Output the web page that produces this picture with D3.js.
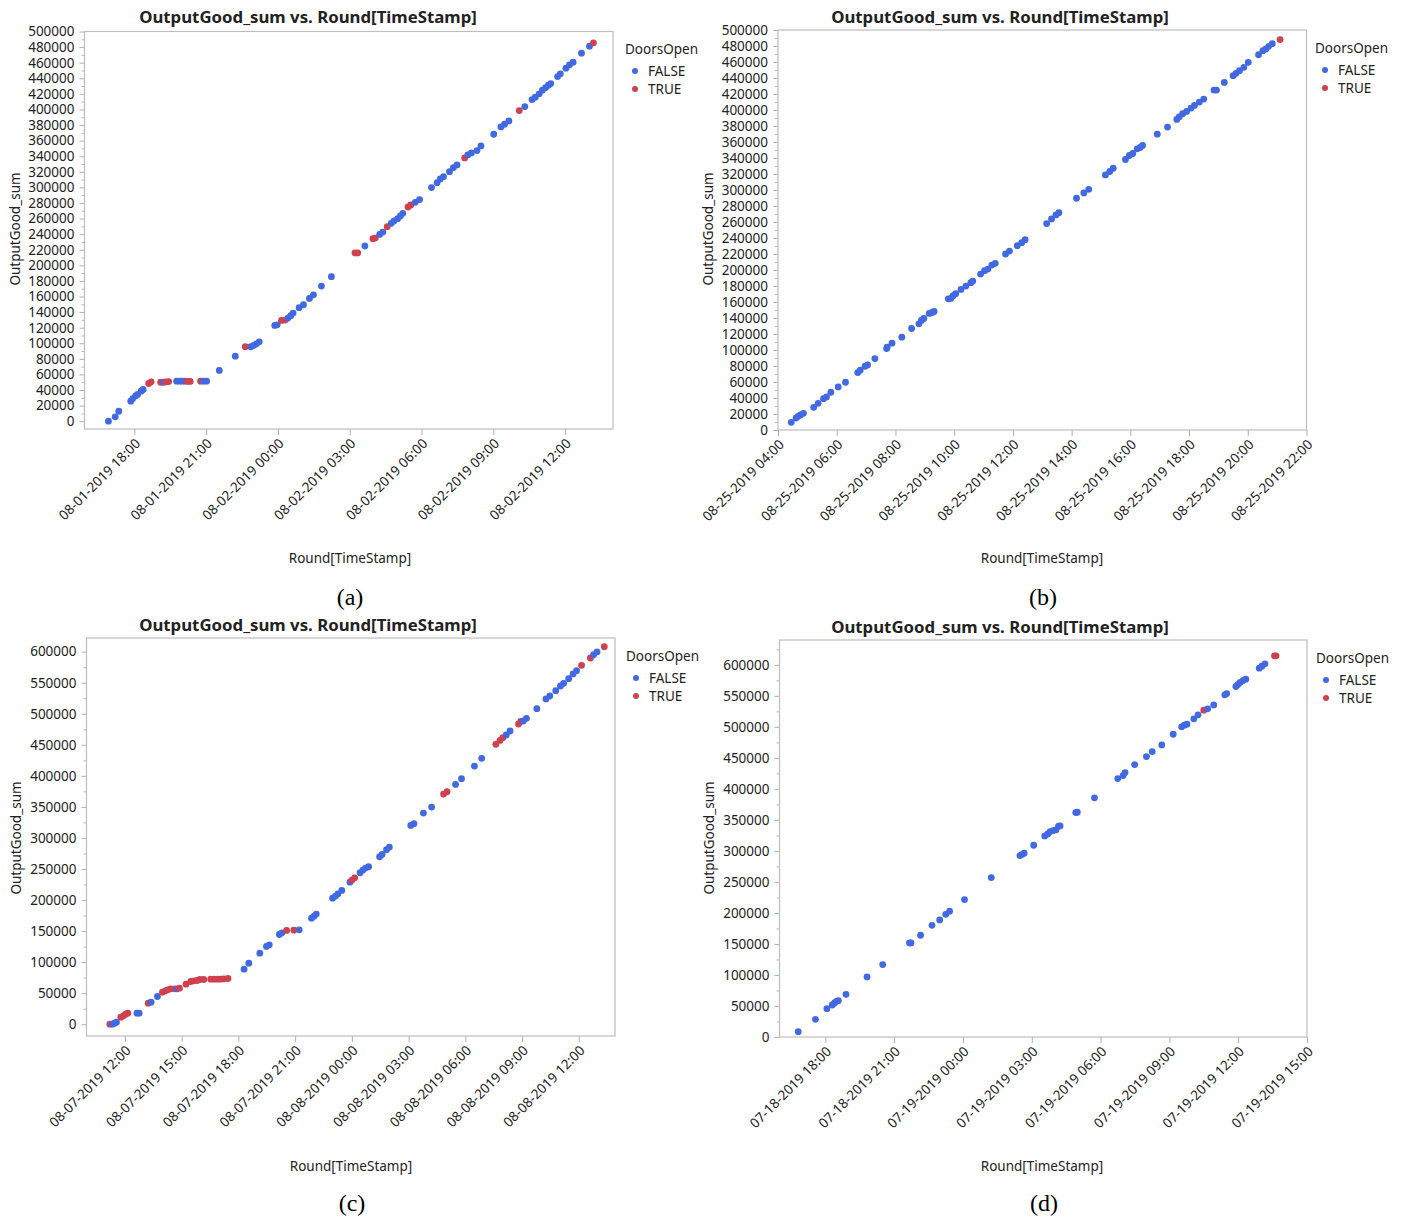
<!DOCTYPE html>
<html>
<head>
<meta charset="utf-8">
<script src="https://cdn.jsdelivr.net/npm/d3@7"></script>
<style>
  body { margin: 0; background: #fff; }
  text { font-family: "Noto Sans", sans-serif; fill: #222; }
</style>
</head>
<body>
<script>
  // [Round[TimeStamp], OutputGood_sum, DoorsOpen]
  const pointsA = [
    ['2019-08-01 16:55', 0, false], ['2019-08-01 17:12', 5600, false], ['2019-08-01 17:21', 12800, false],
    ['2019-08-01 17:51', 25700, false], ['2019-08-01 17:56', 29100, false], ['2019-08-01 18:03', 32500, false],
    ['2019-08-01 18:08', 34300, false], ['2019-08-01 18:17', 38500, false], ['2019-08-01 18:22', 40700, false],
    ['2019-08-01 18:36', 48400, true], ['2019-08-01 18:42', 50500, true], ['2019-08-01 19:06', 50000, true],
    ['2019-08-01 19:13', 50000, false], ['2019-08-01 19:19', 50400, true], ['2019-08-01 19:26', 50900, true],
    ['2019-08-01 19:46', 51400, false], ['2019-08-01 19:53', 51400, false], ['2019-08-01 19:59', 51400, false],
    ['2019-08-01 20:06', 51400, false], ['2019-08-01 20:13', 51000, true], ['2019-08-01 20:20', 51000, true],
    ['2019-08-01 20:46', 51400, true], ['2019-08-01 20:53', 51400, false], ['2019-08-01 21:01', 51400, false],
    ['2019-08-01 21:33', 65100, false], ['2019-08-01 22:13', 83500, false], ['2019-08-01 22:38', 95500, true],
    ['2019-08-01 22:52', 95500, false], ['2019-08-01 22:59', 97200, false], ['2019-08-01 23:06', 99300, false],
    ['2019-08-01 23:13', 101900, false], ['2019-08-01 23:52', 122900, false], ['2019-08-01 23:58', 123700, false],
    ['2019-08-02 00:09', 129300, true], ['2019-08-02 00:18', 129700, true], ['2019-08-02 00:25', 132300, false],
    ['2019-08-02 00:32', 135300, false], ['2019-08-02 00:38', 138700, false], ['2019-08-02 00:53', 145600, false],
    ['2019-08-02 01:04', 149400, false], ['2019-08-02 01:19', 157500, false], ['2019-08-02 01:29', 162200, false],
    ['2019-08-02 01:49', 173400, false], ['2019-08-02 02:14', 185400, false], ['2019-08-02 03:13', 215800, true],
    ['2019-08-02 03:20', 215800, true], ['2019-08-02 03:38', 224800, false], ['2019-08-02 03:58', 234200, true],
    ['2019-08-02 04:04', 235000, true], ['2019-08-02 04:15', 239700, false], ['2019-08-02 04:23', 242700, false],
    ['2019-08-02 04:34', 249600, true], ['2019-08-02 04:44', 253900, false], ['2019-08-02 04:51', 256900, false],
    ['2019-08-02 05:00', 259900, false], ['2019-08-02 05:07', 263300, false], ['2019-08-02 05:13', 266700, false],
    ['2019-08-02 05:26', 274800, true], ['2019-08-02 05:33', 277400, true], ['2019-08-02 05:44', 280800, false],
    ['2019-08-02 05:55', 284300, false], ['2019-08-02 06:25', 299700, false], ['2019-08-02 06:39', 306100, false],
    ['2019-08-02 06:47', 310800, false], ['2019-08-02 06:55', 313800, false], ['2019-08-02 07:10', 320200, false],
    ['2019-08-02 07:20', 325400, false], ['2019-08-02 07:29', 328800, false], ['2019-08-02 07:48', 337800, true],
    ['2019-08-02 07:56', 341600, false], ['2019-08-02 08:05', 344200, false], ['2019-08-02 08:19', 347200, false],
    ['2019-08-02 08:29', 353200, false], ['2019-08-02 09:01', 368200, false], ['2019-08-02 09:19', 377600, false],
    ['2019-08-02 09:28', 381000, false], ['2019-08-02 09:39', 385300, false], ['2019-08-02 10:05', 398600, true],
    ['2019-08-02 10:19', 403700, false], ['2019-08-02 10:37', 412700, false], ['2019-08-02 10:45', 415700, false],
    ['2019-08-02 10:55', 420000, false], ['2019-08-02 11:03', 424700, false], ['2019-08-02 11:11', 428100, false],
    ['2019-08-02 11:18', 431100, false], ['2019-08-02 11:24', 433200, false], ['2019-08-02 11:41', 442200, false],
    ['2019-08-02 11:48', 445700, false], ['2019-08-02 12:02', 452900, false], ['2019-08-02 12:11', 457200, false],
    ['2019-08-02 12:20', 460600, false], ['2019-08-02 12:41', 472200, false], ['2019-08-02 13:01', 481200, false],
    ['2019-08-02 13:11', 485500, true]
  ];

  const pointsB = [
    ['2019-08-25 04:27', 9600, false], ['2019-08-25 04:37', 15000, false], ['2019-08-25 04:41', 17100, false],
    ['2019-08-25 04:46', 18800, false], ['2019-08-25 04:52', 20900, false], ['2019-08-25 05:13', 28400, false],
    ['2019-08-25 05:22', 33400, false], ['2019-08-25 05:33', 39200, false], ['2019-08-25 05:39', 41300, false],
    ['2019-08-25 05:48', 47200, false], ['2019-08-25 06:03', 53800, false], ['2019-08-25 06:18', 59700, false],
    ['2019-08-25 06:43', 71800, false], ['2019-08-25 06:48', 74700, false], ['2019-08-25 06:58', 79700, false],
    ['2019-08-25 07:03', 81400, false], ['2019-08-25 07:18', 89300, false], ['2019-08-25 07:42', 101800, false],
    ['2019-08-25 07:43', 103500, false], ['2019-08-25 07:53', 108500, false], ['2019-08-25 08:13', 116000, false],
    ['2019-08-25 08:33', 126900, false], ['2019-08-25 08:48', 132700, false], ['2019-08-25 08:53', 136900, false],
    ['2019-08-25 08:58', 139400, false], ['2019-08-25 09:09', 145700, false], ['2019-08-25 09:15', 146900, false],
    ['2019-08-25 09:19', 148200, false], ['2019-08-25 09:48', 164000, false], ['2019-08-25 09:53', 164500, false],
    ['2019-08-25 09:58', 167800, false], ['2019-08-25 10:03', 170300, false], ['2019-08-25 10:14', 175700, false],
    ['2019-08-25 10:24', 179900, false], ['2019-08-25 10:34', 184100, false], ['2019-08-25 10:38', 186200, false],
    ['2019-08-25 10:54', 194900, false], ['2019-08-25 11:02', 199100, false], ['2019-08-25 11:09', 201200, false],
    ['2019-08-25 11:17', 206200, false], ['2019-08-25 11:24', 208300, false], ['2019-08-25 11:45', 220000, false],
    ['2019-08-25 11:53', 223700, false], ['2019-08-25 12:09', 230400, false], ['2019-08-25 12:18', 234200, false],
    ['2019-08-25 12:25', 237900, false], ['2019-08-25 13:09', 258000, false], ['2019-08-25 13:19', 263800, false],
    ['2019-08-25 13:28', 268800, false], ['2019-08-25 13:34', 271700, false], ['2019-08-25 14:10', 289700, false],
    ['2019-08-25 14:25', 296400, false], ['2019-08-25 14:35', 300900, false], ['2019-08-25 15:09', 318900, false],
    ['2019-08-25 15:18', 323100, false], ['2019-08-25 15:25', 327200, false], ['2019-08-25 15:50', 338100, false],
    ['2019-08-25 15:58', 343100, false], ['2019-08-25 16:05', 345600, false], ['2019-08-25 16:14', 351500, false],
    ['2019-08-25 16:20', 353100, false], ['2019-08-25 16:25', 355600, false], ['2019-08-25 16:55', 369800, false],
    ['2019-08-25 17:16', 378600, false], ['2019-08-25 17:35', 388200, false], ['2019-08-25 17:40', 391500, false],
    ['2019-08-25 17:47', 395300, false], ['2019-08-25 17:55', 398200, false], ['2019-08-25 18:04', 402400, false],
    ['2019-08-25 18:11', 405700, false], ['2019-08-25 18:21', 409900, false], ['2019-08-25 18:30', 413600, false],
    ['2019-08-25 18:51', 424900, false], ['2019-08-25 18:56', 424900, false], ['2019-08-25 19:12', 434500, false],
    ['2019-08-25 19:30', 442900, false], ['2019-08-25 19:36', 445800, false], ['2019-08-25 19:43', 449100, false],
    ['2019-08-25 19:52', 453300, false], ['2019-08-25 20:01', 459600, false], ['2019-08-25 20:22', 469200, false],
    ['2019-08-25 20:31', 474200, false], ['2019-08-25 20:37', 476300, false], ['2019-08-25 20:43', 479600, false],
    ['2019-08-25 20:50', 482900, false], ['2019-08-25 21:06', 488000, true]
  ];

  const pointsC = [
    ['2019-08-07 11:12', 0, true], ['2019-08-07 11:20', 0, false], ['2019-08-07 11:27', 1600, false],
    ['2019-08-07 11:33', 3200, false], ['2019-08-07 11:47', 11300, true], ['2019-08-07 11:55', 13400, true],
    ['2019-08-07 12:02', 16100, true], ['2019-08-07 12:09', 17700, true], ['2019-08-07 12:38', 17700, false],
    ['2019-08-07 12:45', 17700, false], ['2019-08-07 13:14', 33800, true], ['2019-08-07 13:23', 35500, false],
    ['2019-08-07 13:43', 44600, false], ['2019-08-07 13:59', 51600, true], ['2019-08-07 14:08', 53700, true],
    ['2019-08-07 14:16', 55300, true], ['2019-08-07 14:25', 56900, true], ['2019-08-07 14:36', 56900, true],
    ['2019-08-07 14:45', 56900, false], ['2019-08-07 14:53', 58000, true], ['2019-08-07 15:14', 64500, true],
    ['2019-08-07 15:29', 68800, true], ['2019-08-07 15:39', 69800, true], ['2019-08-07 15:49', 70400, true],
    ['2019-08-07 15:58', 72000, true], ['2019-08-07 16:10', 72000, true], ['2019-08-07 16:32', 72500, true],
    ['2019-08-07 16:42', 72500, true], ['2019-08-07 16:53', 72500, true], ['2019-08-07 17:04', 72500, true],
    ['2019-08-07 17:14', 73100, true], ['2019-08-07 17:27', 73600, true], ['2019-08-07 18:18', 88600, false],
    ['2019-08-07 18:33', 98300, false], ['2019-08-07 19:08', 114400, false], ['2019-08-07 19:29', 125200, false],
    ['2019-08-07 19:38', 127900, false], ['2019-08-07 20:10', 144500, false], ['2019-08-07 20:18', 147200, false],
    ['2019-08-07 20:33', 151000, true], ['2019-08-07 20:56', 151500, true], ['2019-08-07 21:13', 152000, false],
    ['2019-08-07 21:52', 170800, false], ['2019-08-07 22:00', 174000, false], ['2019-08-07 22:07', 177300, false],
    ['2019-08-07 22:59', 203000, false], ['2019-08-07 23:08', 206300, false], ['2019-08-07 23:16', 210000, false],
    ['2019-08-07 23:28', 215400, false], ['2019-08-07 23:54', 228800, false], ['2019-08-08 00:00', 232100, true],
    ['2019-08-08 00:09', 235800, true], ['2019-08-08 00:26', 243900, false], ['2019-08-08 00:35', 248200, false],
    ['2019-08-08 00:43', 251400, false], ['2019-08-08 00:53', 253600, false], ['2019-08-08 01:28', 269700, false],
    ['2019-08-08 01:36', 273400, false], ['2019-08-08 01:50', 281000, false], ['2019-08-08 01:59', 285300, false],
    ['2019-08-08 03:07', 320200, false], ['2019-08-08 03:17', 322900, false], ['2019-08-08 03:47', 340000, false],
    ['2019-08-08 04:13', 349700, false], ['2019-08-08 04:51', 370700, true], ['2019-08-08 05:02', 374400, true],
    ['2019-08-08 05:29', 386200, false], ['2019-08-08 05:48', 395400, false], ['2019-08-08 06:29', 415800, false],
    ['2019-08-08 06:52', 428200, false], ['2019-08-08 07:37', 450700, true], ['2019-08-08 07:50', 457100, true],
    ['2019-08-08 07:59', 461400, true], ['2019-08-08 08:10', 465800, false], ['2019-08-08 08:22', 472200, false],
    ['2019-08-08 08:49', 483500, true], ['2019-08-08 08:56', 487800, true], ['2019-08-08 09:04', 488300, false],
    ['2019-08-08 09:14', 492600, false], ['2019-08-08 09:47', 508200, false], ['2019-08-08 10:16', 523800, false],
    ['2019-08-08 10:28', 528600, false], ['2019-08-08 10:47', 537200, false], ['2019-08-08 11:02', 544700, false],
    ['2019-08-08 11:12', 549000, false], ['2019-08-08 11:28', 556500, false], ['2019-08-08 11:42', 564100, false],
    ['2019-08-08 11:53', 569400, false], ['2019-08-08 12:09', 578000, true], ['2019-08-08 12:37', 589800, true],
    ['2019-08-08 12:47', 595200, false], ['2019-08-08 12:58', 599500, false], ['2019-08-08 13:21', 608100, true]
  ];

  const pointsD = [
    ['2019-07-18 16:49', 8600, false], ['2019-07-18 17:34', 28500, false], ['2019-07-18 18:04', 45700, false],
    ['2019-07-18 18:18', 51600, false], ['2019-07-18 18:24', 54800, false], ['2019-07-18 18:29', 57500, false],
    ['2019-07-18 18:34', 58600, false], ['2019-07-18 18:54', 68800, false], ['2019-07-18 19:49', 96800, false],
    ['2019-07-18 20:30', 116700, false], ['2019-07-18 21:40', 151600, false], ['2019-07-18 21:44', 151600, false],
    ['2019-07-18 22:09', 164000, false], ['2019-07-18 22:39', 180100, false], ['2019-07-18 22:59', 188700, false],
    ['2019-07-18 23:15', 197800, false], ['2019-07-18 23:25', 202700, false], ['2019-07-19 00:04', 221500, false],
    ['2019-07-19 01:14', 257000, false], ['2019-07-19 02:29', 292500, false], ['2019-07-19 02:34', 294100, false],
    ['2019-07-19 02:40', 296200, false], ['2019-07-19 03:05', 309100, false], ['2019-07-19 03:34', 324200, false],
    ['2019-07-19 03:42', 327400, false], ['2019-07-19 03:48', 331200, false], ['2019-07-19 03:56', 332800, false],
    ['2019-07-19 04:03', 333800, false], ['2019-07-19 04:10', 339800, false], ['2019-07-19 04:14', 340300, false],
    ['2019-07-19 04:55', 361800, false], ['2019-07-19 04:59', 362300, false], ['2019-07-19 05:44', 385500, false],
    ['2019-07-19 06:45', 416600, false], ['2019-07-19 06:59', 421500, false], ['2019-07-19 07:04', 426300, false],
    ['2019-07-19 07:29', 439200, false], ['2019-07-19 08:00', 452100, false], ['2019-07-19 08:15', 460200, false],
    ['2019-07-19 08:40', 470900, false], ['2019-07-19 09:10', 488100, false], ['2019-07-19 09:32', 500000, false],
    ['2019-07-19 09:39', 502700, false], ['2019-07-19 09:46', 504300, false], ['2019-07-19 10:04', 512900, false],
    ['2019-07-19 10:15', 519300, false], ['2019-07-19 10:30', 526800, true], ['2019-07-19 10:40', 529000, false],
    ['2019-07-19 10:56', 535400, false], ['2019-07-19 11:25', 551600, false], ['2019-07-19 11:30', 553700, false],
    ['2019-07-19 11:54', 565000, false], ['2019-07-19 11:59', 568200, false], ['2019-07-19 12:05', 571500, false],
    ['2019-07-19 12:13', 574700, false], ['2019-07-19 12:20', 576800, false], ['2019-07-19 12:55', 594600, false],
    ['2019-07-19 13:02', 597800, false], ['2019-07-19 13:10', 601600, false], ['2019-07-19 13:35', 614500, true],
    ['2019-07-19 13:39', 614500, true]
  ];

  const legendLevels = ['FALSE', 'TRUE'];
  const legendColors = ['#4169e1', '#d0414e'];
  const chartTitle = 'OutputGood_sum vs. Round[TimeStamp]';
  const xTitle = 'Round[TimeStamp]';
  const yTitle = 'OutputGood_sum';
  const legendTitle = 'DoorsOpen';

  const parseTime = d3.timeParse('%Y-%m-%d %H:%M');
  const formatTime = d3.timeFormat('%m-%d-%Y %H:%M');

  const width = 1403;
  const height = 1220;

  const svg = d3.select('body')
          .append('svg')
          .attr('width', width)
          .attr('height', height);

  // 패널마다 프레임 위치, 축 범위, 눈금 간격만 다르고 나머지는 같다
  const panels = [
    { points: pointsA, caption: '(a)', left: 84.5, right: 613, top: 31.5, bottom: 429,
      xDomain: ['2019-08-01 15:55', '2019-08-02 14:00'], hours: 3,
      yDomain: [-10000, 500000], major: 20000, minor: 10000,
      titleX: 308, titleY: 23, yTitleX: 20, yTitleY: 229, xTitleX: 350, xTitleY: 563,
      legendX: 625, legendY: 54, captionX: 350, captionY: 605 },
    { points: pointsB, caption: '(b)', left: 778, right: 1306.5, top: 30, bottom: 430,
      xDomain: ['2019-08-25 04:00', '2019-08-25 22:00'], hours: 2,
      yDomain: [0, 500000], major: 20000, minor: 10000,
      titleX: 1000, titleY: 23, yTitleX: 713, yTitleY: 229, xTitleX: 1042, xTitleY: 563,
      legendX: 1315, legendY: 53, captionX: 1043, captionY: 605 },
    { points: pointsC, caption: '(c)', left: 86.5, right: 615, top: 638, bottom: 1036,
      xDomain: ['2019-08-07 09:58', '2019-08-08 13:55'], hours: 3,
      yDomain: [-19000, 622000], major: 50000, minor: 25000,
      titleX: 308, titleY: 631, yTitleX: 21, yTitleY: 838, xTitleX: 351, xTitleY: 1171,
      legendX: 626, legendY: 661, captionX: 352, captionY: 1211 },
    { points: pointsD, caption: '(d)', left: 779.5, right: 1307, top: 640, bottom: 1037,
      xDomain: ['2019-07-18 16:00', '2019-07-19 15:00'], hours: 3,
      yDomain: [0, 640000], major: 50000, minor: 25000,
      titleX: 1000, titleY: 633, yTitleX: 714, yTitleY: 838, xTitleX: 1042, xTitleY: 1171,
      legendX: 1316, legendY: 663, captionX: 1044, captionY: 1211 }
  ];

  const color = d3.scaleOrdinal().domain(legendLevels).range(legendColors);

  panels.forEach(p => {
    const g = svg.append('g');

    const x = d3.scaleTime()
            .domain(p.xDomain.map(parseTime))
            .range([p.left, p.right]);

    const y = d3.scaleLinear()
            .domain(p.yDomain)
            .range([p.bottom, p.top]);

    // 작은 눈금
    const minorTicks = d3.range(0, p.yDomain[1] + 1, p.minor).filter(v => v % p.major !== 0);
    g.append('g')
            .attr('transform', `translate(${p.left},0)`)
            .call(d3.axisLeft(y).tickValues(minorTicks).tickFormat('').tickSize(3))
            .call(a => a.select('.domain').remove())
            .call(a => a.selectAll('line').attr('stroke', '#b8b8b8'));

    // y축
    const majorTicks = d3.range(0, p.yDomain[1] + 1, p.major);
    g.append('g')
            .attr('transform', `translate(${p.left},0)`)
            .call(d3.axisLeft(y).tickValues(majorTicks).tickFormat(d3.format('d')).tickSize(5).tickPadding(5))
            .call(a => a.select('.domain').remove())
            .call(a => a.selectAll('line').attr('stroke', '#b0b0b0'))
            .call(a => a.selectAll('text')
                    .style('font-family', '"Noto Sans", sans-serif')
                    .style('font-size', '13.5px')
                    .attr('fill', '#222'));

    // x축
    g.append('g')
            .attr('transform', `translate(0,${p.bottom})`)
            .call(d3.axisBottom(x).ticks(d3.timeHour.every(p.hours)).tickFormat(formatTime).tickSize(6))
            .call(a => a.select('.domain').remove())
            .call(a => a.selectAll('line').attr('stroke', '#b0b0b0'))
            .call(a => a.selectAll('text')
                    .style('font-family', '"Noto Sans", sans-serif')
                    .style('font-size', '13.5px')
                    .attr('fill', '#222')
                    .attr('x', 0)
                    .attr('y', 0)
                    .attr('dy', '0.35em')
                    .attr('text-anchor', 'end')
                    .attr('transform', 'translate(3,12) rotate(-45)'));

    // 프레임
    g.append('rect')
            .attr('x', p.left)
            .attr('y', p.top)
            .attr('width', p.right - p.left)
            .attr('height', p.bottom - p.top)
            .attr('fill', 'none')
            .attr('stroke', '#bdbdbd')
            .attr('stroke-width', 1.2);

    // 점
    g.append('g')
            .selectAll('circle')
            .data(p.points)
            .enter()
            .append('circle')
            .attr('cx', d => x(parseTime(d[0])))
            .attr('cy', d => y(d[1]))
            .attr('r', 3.4)
            .attr('fill', d => color(d[2] ? 'TRUE' : 'FALSE'));

    g.append('text')
            .attr('x', p.titleX)
            .attr('y', p.titleY)
            .attr('text-anchor', 'middle')
            .style('font-size', '16.8px')
            .style('font-weight', 'bold')
            .text(chartTitle);

    g.append('text')
            .attr('transform', `translate(${p.yTitleX},${p.yTitleY}) rotate(-90)`)
            .attr('text-anchor', 'middle')
            .style('font-size', '13.5px')
            .text(yTitle);

    g.append('text')
            .attr('x', p.xTitleX)
            .attr('y', p.xTitleY)
            .attr('text-anchor', 'middle')
            .style('font-size', '13.5px')
            .text(xTitle);

    // 범례
    const legend = g.append('g').attr('transform', `translate(${p.legendX},${p.legendY})`);
    legend.append('text')
            .style('font-size', '13.5px')
            .text(legendTitle);
    const item = legend.selectAll('.item')
            .data(legendLevels)
            .enter()
            .append('g')
            .attr('class', 'item')
            .attr('transform', (d, i) => `translate(0,${17 + i * 18})`);
    item.append('circle')
            .attr('cx', 10)
            .attr('cy', 0)
            .attr('r', 3)
            .attr('fill', d => color(d));
    item.append('text')
            .attr('x', 23)
            .attr('dy', '0.35em')
            .style('font-size', '13.5px')
            .text(d => d);

    g.append('text')
            .attr('x', p.captionX)
            .attr('y', p.captionY)
            .attr('text-anchor', 'middle')
            .style('font-family', '"Liberation Serif", serif')
            .style('font-size', '24px')
            .style('fill', '#000')
            .text(p.caption);
  });
</script>
</body>
</html>
